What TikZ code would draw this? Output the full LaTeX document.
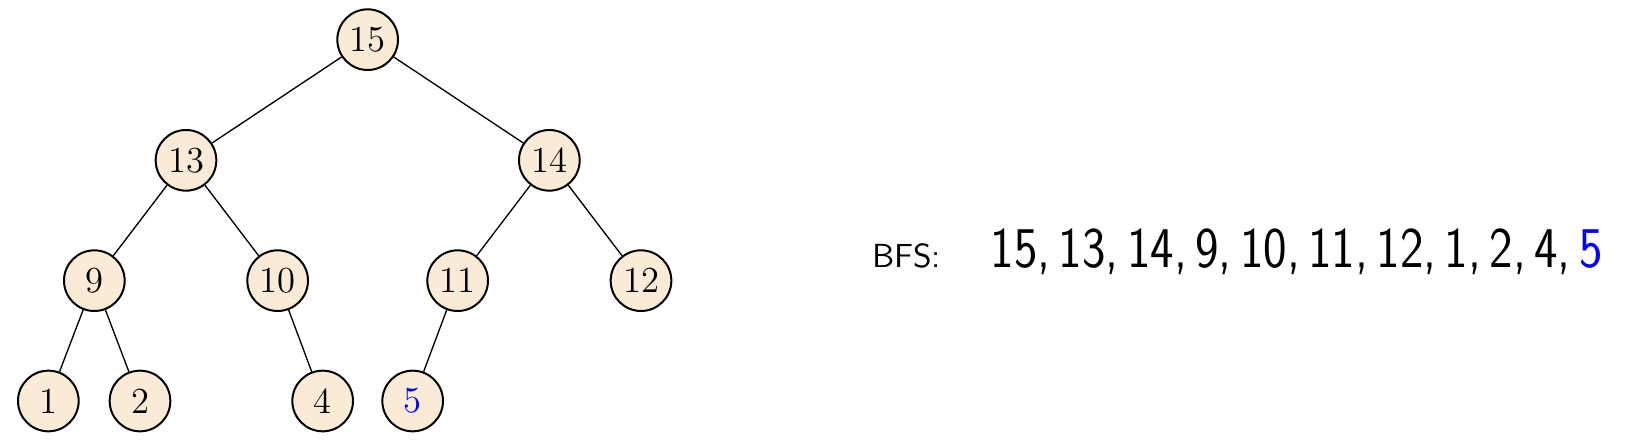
\documentclass[tikz,border=0pt]{standalone}
\usepackage{tikz}
\usetikzlibrary{positioning}
\definecolor{nodefill}{RGB}{250,235,215}

\begin{document}
\begin{tikzpicture}[
    every node/.style={circle,draw,semithick,fill=nodefill,minimum size=18.2pt,inner sep=1pt,font=\fontsize{11}{13}\selectfont},
    node distance=36.2pt and 54.5pt, on grid]
    \useasboundingbox (0,0) rectangle (492.6pt,-133.2pt);
    \node (s15) at (110.3pt,-11.9pt) {15};

    \node (s13) [below left= of s15]{13};
    \node (s14) [below right= of s15]{14};
    \node (s9) [below left=36.1pt and 27.5pt of s13]{9};
    \node (s10) [below right=36.1pt and 27.5pt of s13]{10};
    \node (s11) [below left=36.1pt and 27.5pt of s14]{11};
    \node (s12) [below right=36.1pt and 27.5pt of s14]{12};
    \node (s1) [below left=36.1pt and 13.8pt of s9]{1};
    \node (s2) [below right=36.1pt and 13.7pt of s9]{2};
    \node (s4) [below right=36.1pt and 13.5pt of s10]{4};
    \node (s5) [below left=36.1pt and 13.5pt of s11]{\color{blue}5};

    \path (s15) edge (s13);
    \path (s15) edge (s14);
    \path (s13) edge (s9);
    \path (s13) edge (s10);
    \path (s14) edge (s11);
    \path (s14) edge (s12);
    \path (s9) edge (s1);
    \path (s9) edge (s2);
    \path (s10) edge (s4);
    \path (s11) edge (s5);

    \node (bfs) [draw=none,fill=none,inner sep=0pt,anchor=base west,font=\normalsize] at (260.7pt,-80.3pt) {\sffamily BFS:};
    \node (order) [draw=none,fill=none,inner sep=0pt,anchor=base west,font=\normalsize] at (296.9pt,-80.3pt)
        {\resizebox{183.6pt}{\height}{\sffamily\LARGE 15,\,13,\,14,\,9,\,10,\,11,\,12,\,1,\,2,\,4,\,\color{blue}5}};
  \end{tikzpicture}
\end{document}
